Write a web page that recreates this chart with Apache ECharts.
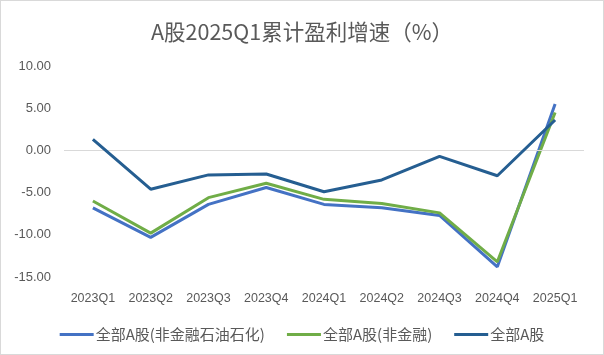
<!DOCTYPE html>
<html><head><meta charset="utf-8">
<script src="https://cdn.jsdelivr.net/npm/echarts@6/dist/echarts.min.js"></script>
<style>
html,body{margin:0;padding:0;background:#fff;}
#wrap{width:604px;height:355px;box-sizing:border-box;border:1px solid #d9d9d9;}
#c{width:602px;height:353px;}
</style></head>
<body><div id="wrap"><div id="c"></div></div>
<script>
const categories = ['2023Q1','2023Q2','2023Q3','2023Q4','2024Q1','2024Q2','2024Q3','2024Q4','2025Q1'];
const seriesNames = ['全部A股(非金融石油石化)','全部A股(非金融)','全部A股'];
const exPetro = [-6.8,-10.3,-6.4,-4.4,-6.4,-6.8,-7.7,-13.8,5.5];
const nonFin  = [-6.0,-9.8,-5.6,-3.9,-5.8,-6.3,-7.4,-13.2,4.5];
const allA    = [1.3,-4.6,-2.9,-2.8,-4.9,-3.5,-0.7,-3.0,3.6];
const yTicks = {min:-15,max:10,interval:5};

const font = '"Liberation Sans","Noto Sans CJK SC",sans-serif';
const colors = ['#4472C4','#70AD47','#255E91'];
const chart = echarts.init(document.getElementById('c'));
const mk = (name, data, color, extra) => Object.assign({
  name, type:'line', data, symbol:'none', smooth:false,
  lineStyle:{width:3,color}, itemStyle:{color}
}, extra||{});
chart.setOption({
  animation:false,
  title:{text:'A股2025Q1累计盈利增速（%）',left:'center',top:15,
    textStyle:{fontFamily:'"Noto Sans CJK SC",sans-serif',fontSize:21.5,fontWeight:'normal',color:'#595959'}},
  grid:{left:63,right:19,top:65,bottom:77},
  legend:{top:321,left:'center',itemWidth:34,itemHeight:3,itemGap:22,icon:'rect',
    textStyle:{fontFamily:'"Noto Sans CJK SC",sans-serif',fontSize:15,color:'#595959',padding:[0,0,0,-3]},
    data:seriesNames},
  xAxis:{type:'category',data:categories,boundaryGap:true,
    axisLine:{show:false,onZero:false},axisTick:{show:false},
    axisLabel:{interval:0,margin:15,fontFamily:font,fontSize:12.5,color:'#595959'}},
  yAxis:{type:'value',min:yTicks.min,max:yTicks.max,interval:yTicks.interval,
    axisLine:{show:false},axisTick:{show:false},splitLine:{show:false},
    axisLabel:{margin:13,fontFamily:font,fontSize:13,color:'#595959',formatter:v=>v.toFixed(2)}},
  series:[
    mk(seriesNames[0],exPetro,colors[0],{markLine:{silent:true,symbol:'none',label:{show:false},
      lineStyle:{color:'#d9d9d9',width:1,type:'solid'},data:[{yAxis:0}]},z:3}),
    mk(seriesNames[1],nonFin,colors[1],{z:4}),
    mk(seriesNames[2],allA,colors[2],{z:5})
  ]
});
</script></body></html>
